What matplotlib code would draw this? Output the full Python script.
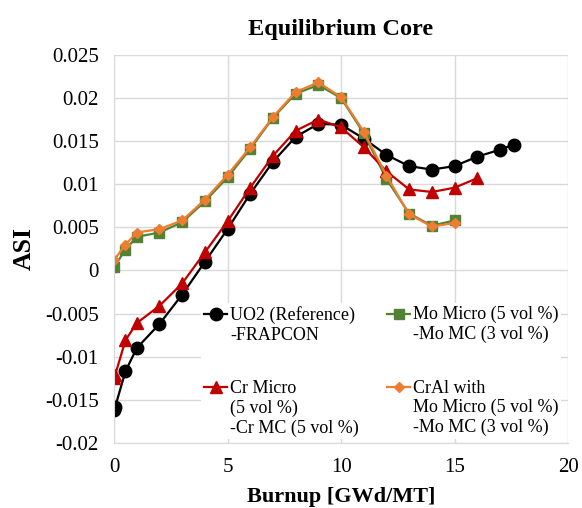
"""
Equilibrium core ASI vs burnup
"""

# IMPORTs
import numpy as np
import matplotlib
matplotlib.use('Agg')
import matplotlib.pyplot as plt
from matplotlib.legend_handler import HandlerLine2D

# DATA
burnup_uo2 = [0, 0.05, 0.5, 1, 2, 3, 4, 5, 6, 7, 8, 9, 10, 11, 12, 13, 14, 15, 16, 17, 17.6]
asi_uo2 = [-0.0162, -0.0158, -0.0117, -0.0090, -0.0062, -0.0028, 0.0010, 0.0048, 0.0089,
           0.0126, 0.0155, 0.0170, 0.0169, 0.0153, 0.0134, 0.0121, 0.0117, 0.0121, 0.0132,
           0.0140, 0.0146]

burnup_cr = [0, 0.05, 0.5, 1, 2, 3, 4, 5, 6, 7, 8, 9, 10, 11, 12, 13, 14, 15, 16]
asi_cr = [-0.0125, -0.0121, -0.0081, -0.0061, -0.0041, -0.0015, 0.0021, 0.0057, 0.0096,
          0.0133, 0.0162, 0.0175, 0.0166, 0.0143, 0.0115, 0.0094, 0.0091, 0.0096, 0.0107]

burnup_mo = [0, 0.5, 1, 2, 3, 4, 5, 6, 7, 8, 9, 10, 11, 12, 13, 14, 15]
asi_mo = [0.0004, 0.0024, 0.0039, 0.0044, 0.0056, 0.0080, 0.0108, 0.0141, 0.0177, 0.0205,
          0.0215, 0.0200, 0.0159, 0.0106, 0.0066, 0.0052, 0.0058]
asi_cral = [0.0012, 0.0030, 0.0044, 0.0048, 0.0058, 0.0082, 0.0111, 0.0143, 0.0178, 0.0207,
            0.0218, 0.0201, 0.0161, 0.0110, 0.0065, 0.0051, 0.0055]

labels = [
    'UO2 (Reference)\n-FRAPCON',
    'Cr Micro\n(5 vol %)\n-Cr MC (5 vol %)',
    'Mo Micro (5 vol %)\n-Mo MC (3 vol %)',
    'CrAl with\nMo Micro (5 vol %)\n-Mo MC (3 vol %)',
]

x_ticks = [0, 5, 10, 15, 20]
y_ticks = [-0.02, -0.015, -0.01, -0.005, 0, 0.005, 0.01, 0.015, 0.02, 0.025]
y_tick_labels = ['-0.02', '-0.015', '-0.01', '-0.005', '0', '0.005', '0.01', '0.015', '0.02', '0.025']


class HandlerFirstLine(HandlerLine2D):
    """
    Puts the legend handle next to the first line of a multi-line label.
    """

    def __init__(self, n_lines, line_pt, **kwargs):
        super().__init__(**kwargs)
        self.offset = (n_lines - 1) / 2 * line_pt

    def create_artists(self, legend, orig_handle, xdescent, ydescent, width, height, fontsize, trans):
        artists = super().create_artists(legend, orig_handle, xdescent, ydescent, width, height, fontsize, trans)
        for a in artists:
            a.set_ydata(np.asarray(a.get_ydata()) + self.offset)
        return artists


# FONT
plt.rcParams['font.family'] = ['Liberation Serif', 'DejaVu Serif']
fs_tick = 15
fs_leg = 13

fig = plt.figure(figsize=(5.82, 5.08), dpi=100)
ax = fig.add_axes([0.196, 0.128, 0.78, 0.764])

l_uo2, = ax.plot(burnup_uo2, asi_uo2, color='black', marker='o', markersize=9, linewidth=1.6, label=labels[0])
l_mo, = ax.plot(burnup_mo, asi_mo, color='#548235', marker='s', markersize=7.5, linewidth=1.6, label=labels[2])
l_cr, = ax.plot(burnup_cr, asi_cr, color='#C00000', marker='^', markersize=8.5, linewidth=1.6, label=labels[1])
l_cral, = ax.plot(burnup_mo, asi_cral, color='#ED7D31', marker='D', markersize=5.5, linewidth=1.6, label=labels[3])

ax.set_xlim(0, 20)
ax.set_ylim(-0.02, 0.025)
ax.set_xticks(x_ticks)
ax.set_yticks(y_ticks)
ax.set_yticklabels(y_tick_labels)
ax.tick_params(length=0, labelsize=fs_tick, pad=11)
ax.grid(True, color='#D9D9D9', linewidth=1)
ax.set_axisbelow(True)
for side in ['top', 'right']:
    ax.spines[side].set_visible(False)
for side in ['left', 'bottom']:
    ax.spines[side].set_color('#D9D9D9')

ax.set_title('Equilibrium Core', fontsize=17.5, fontweight='bold', pad=14)
ax.set_xlabel('Burnup [GWd/MT]', fontsize=16, fontweight='bold', labelpad=7)
ax.set_ylabel('ASI', fontsize=18.5, fontweight='bold', labelpad=7)

# LEGEND
line_pt = fs_leg * 1.2
handles = [l_uo2, l_cr, l_mo, l_cral]
n_lines = [lab.count('\n') + 1 for lab in labels]
leg = ax.legend(
    handles, labels, ncol=2, loc='lower right', bbox_to_anchor=(0.985, 0.0095),
    fontsize=fs_leg, frameon=True, framealpha=1, edgecolor='none', fancybox=False,
    labelspacing=2.0, handlelength=1.3, handletextpad=0.15, columnspacing=1.55,
    borderpad=0.15, borderaxespad=0,
    handler_map={h: HandlerFirstLine(n, line_pt) for h, n in zip(handles, n_lines)},
)

fig.savefig('out.png', dpi=100)
